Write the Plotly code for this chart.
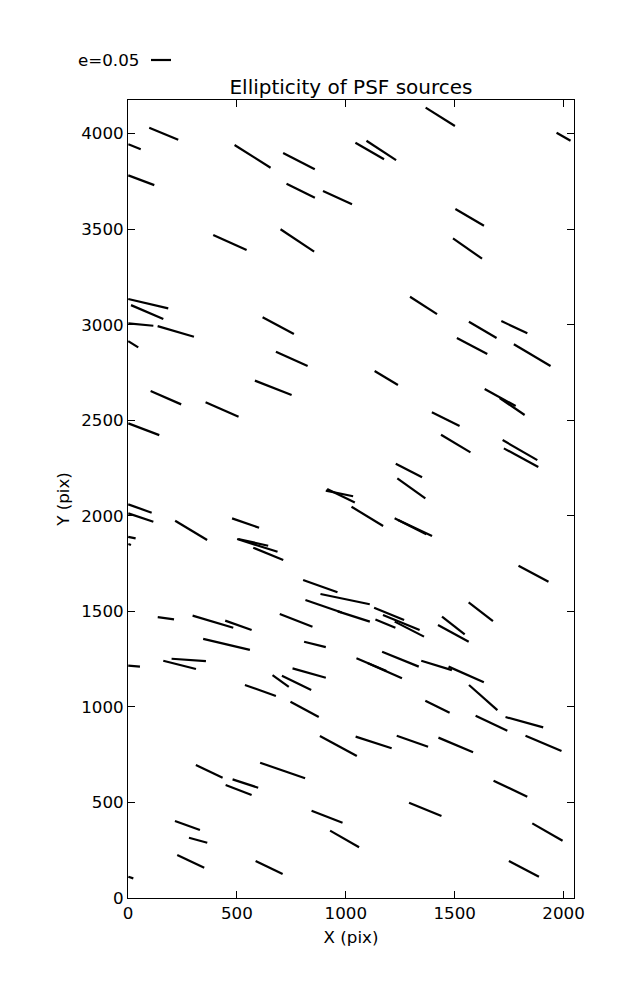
import math
import plotly.graph_objects as go

# ---- data (centre X, centre Y in pix, ellipticity e, angle in degrees) ----
x_pix = [164, 30, 572, 785, 61, 793, 962, 468, 777.5, 1434, 1110, 1163, 2000, 1569, 1559, 1357,
         93, 88, 59, 219.5, 24, 690, 752, 667, 174, 432, 72.5,
         1629, 1774, 1580, 1856, 1186, 1709, 1764, 1459, 1505, 1800, 1805, 1290, 1301,
         971, 978, 55, 59, 18, 7.6, 290, 540, 594, 575, 644, 883, 997, 898, 1037,
         174, 390, 507, 452.5, 772, 858.5, 28, 237, 279, 832, 701, 774, 608,
         1099, 1297, 1318, 1862, 1199, 1182, 1255, 1292, 1494, 1494, 1620, 1251, 1118, 1180,
         1417, 1553, 1631, 1421, 811, 966, 373, 539, 508, 710, 914, 994.5, 273, 322, 288, 648, 13,
         1669, 1820, 1128, 1306, 1505, 1908, 1756, 1365, 1926, 1818]
y_pix = [3999, 3931, 3881, 3856, 3756, 3701, 3665, 3430, 3441, 4088, 3909, 3912, 3984, 3562, 3399, 3101,
         3110, 3066, 3001, 2965, 2898, 2995, 2821, 2670, 2618, 2556, 2453,
         2973, 2987, 2889, 2841, 2721, 2619, 2572, 2506, 2378, 2344, 2304, 2237, 2144,
         2117, 2105, 2038, 1991, 1886, 1850, 1924, 1962, 1845, 1861, 1801, 1632, 1564, 1527, 1473,
         1464, 1446, 1427, 1327, 1453, 1327, 1213, 1220, 1246, 1177, 1136, 1126, 1086,
         1997, 1945, 1936, 1697, 1487, 1436, 1442, 1407, 1426, 1385, 1498, 1250, 1221, 1189,
         1217, 1170, 1049, 1001, 987, 795, 663, 599, 565, 667, 425, 309, 379, 302.5, 192, 160, 107,
         915, 920, 814, 820.5, 801, 809, 572, 464, 345, 152.5]
ellipticity = [0.0785, 0.0334, 0.1064, 0.089, 0.0694, 0.079, 0.0798, 0.0915, 0.101, 0.0863, 0.0827, 0.0884,
               0.0403, 0.0828, 0.0887, 0.0802,
               0.1027, 0.088, 0.0628, 0.0946, 0.0296, 0.0887, 0.087, 0.0985, 0.0834, 0.09, 0.0828,
               0.0803, 0.0719, 0.0859, 0.1066, 0.068, 0.0884, 0.0756, 0.0773, 0.0857, 0.1001, 0.0979,
               0.074, 0.086,
               0.0697, 0.0768, 0.0622, 0.066, 0.019, 0.007, 0.0934, 0.0715, 0.1059, 0.0768, 0.081,
               0.0913, 0.126, 0.096, 0.084,
               0.0411, 0.106, 0.07, 0.12, 0.0877, 0.0559, 0.0294, 0.0843, 0.086, 0.0865, 0.0502, 0.0815,
               0.0822,
               0.0926, 0.0888, 0.094, 0.085, 0.081, 0.0542, 0.099, 0.0823, 0.0718, 0.0874, 0.0767, 0.099,
               0.0814, 0.0929,
               0.08, 0.0965, 0.0946, 0.0678, 0.0804, 0.105, 0.074, 0.0674, 0.0696, 0.119, 0.083, 0.0835,
               0.0664, 0.0474, 0.0746, 0.075, 0.013,
               0.0877, 0.0977, 0.0946, 0.083, 0.094, 0.0978, 0.0933, 0.0876, 0.0873, 0.0847]
angle_deg = [-22.5, -22, -32.2, -27.2, -20.5, -26.3, -24.6, -24.2, -33.7, -32, -30.1, -33.1, -29.7, -30.3,
             -35.1, -32.6,
             -13.1, -23.4, -5.5, -16.4, -32.2, -28.1, -24.3, -21.3, -23.5, -23.6, -20.7,
             -30.5, -25.3, -27.8, -30.6, -31, -28.7, -34.2, -26.3, -30.9, -30, -28.5, -27.3, -35.5,
             -11.6, -25.6, -19.7, -18.6, -12.2, -20, -31.1, -19.2, -17.5, -12.6, -22.3, -19.7, -11.8,
             -19, -17.7,
             -8, -16.5, -19.4, -13.3, -21.2, -13.7, -4.9, -14.2, -3.8, -15.8, -35.7, -26, -19.5,
             -31.4, -26.8, -25.2, -28.1, -22.3, -22.8, -22.2, -27.1, -37.8, -28.5, -37.6, -22.2,
             -22.9, -23.8,
             -16.9, -23.8, -41.4, -26.3, -28.4, -28.4, -25.4, -18.2, -21, -19.1, -21.2, -29.8,
             -19.8, -15.3, -25.2, -25.7, -17.7,
             -25.3, -15.3, -17.9, -19.4, -22.9, -23, -25.4, -22.3, -29.9, -27.6]

x_ticks = [0, 500, 1000, 1500, 2000]
y_ticks = [0, 500, 1000, 1500, 2000, 2500, 3000, 3500, 4000]
key_e = 0.05

# ---- layout geometry (page has an 8px body margin) ----
W, H = 637, 1000
PAGE_OFF = 8
PLOT_L, PLOT_R, PLOT_T, PLOT_B = 128, 574, 100, 898   # target on-screen plot box
ML = PLOT_L - PAGE_OFF
MT = PLOT_T - PAGE_OFF
MR = W - (PLOT_R - PAGE_OFF)
MB = H - (PLOT_B - PAGE_OFF)
X_RANGE = [0, 2048]
Y_RANGE = [0, 4176]
KEY_PX = 20.0  # drawn length of e = key_e, in pixels
plot_w = PLOT_R - PLOT_L
plot_h = PLOT_B - PLOT_T
sx = plot_w / (X_RANGE[1] - X_RANGE[0])   # px per data unit
sy = plot_h / (Y_RANGE[1] - Y_RANGE[0])
px_per_e = KEY_PX / key_e

xs, ys = [], []
for cx, cy, e, th in zip(x_pix, y_pix, ellipticity, angle_deg):
    half = 0.5 * e * px_per_e
    t = math.radians(th)
    dx = half * math.cos(t) / sx
    dy = half * math.sin(t) / sy
    xs += [cx - dx, cx + dx, None]
    ys += [cy - dy, cy + dy, None]

fig = go.Figure()
fig.add_trace(go.Scatter(x=xs, y=ys, mode="lines",
                         line=dict(color="black", width=2.2), hoverinfo="skip",
                         showlegend=False))

FONT = "DejaVu Sans"
FS = 16.7
axis_common = dict(showline=True, linecolor="black", linewidth=1, mirror="ticks",
                   ticks="inside", ticklen=7, tickwidth=1, tickcolor="black",
                   showgrid=False, zeroline=False,
                   tickfont=dict(family=FONT, size=FS, color="black"))

fig.update_layout(
    width=W, height=H,
    margin=dict(l=ML, r=MR, t=MT, b=MB),
    paper_bgcolor="white", plot_bgcolor="white",
    font=dict(family=FONT, color="black"),
    title=dict(text="Ellipticity of PSF sources", x=0.5, xref="paper", xanchor="center",
               y=1 - (87 - PAGE_OFF) / H, yref="container", yanchor="middle",
               font=dict(family=FONT, size=20, color="black")),
    xaxis=dict(range=X_RANGE, tickvals=x_ticks, ticktext=[str(v) for v in x_ticks],
               title=dict(text="X (pix)", standoff=9, font=dict(family=FONT, size=FS)),
               **axis_common),
    yaxis=dict(range=Y_RANGE, tickvals=y_ticks, ticktext=[str(v) for v in y_ticks],
               title=dict(text="Y (pix)", standoff=7, font=dict(family=FONT, size=FS)),
               **axis_common),
)

# quiver key (legend)
key_y = 1 + (PLOT_T - 60) / plot_h
key_x0 = (151 - PLOT_L) / plot_w
fig.add_shape(type="line", xref="paper", yref="paper",
              x0=key_x0, x1=key_x0 + KEY_PX / plot_w, y0=key_y, y1=key_y,
              line=dict(color="black", width=2.2))
fig.add_annotation(text=f"e={key_e}", xref="paper", yref="paper",
                   x=key_x0 - 10 / plot_w, y=key_y, xanchor="right", yanchor="middle",
                   showarrow=False, font=dict(family=FONT, size=FS, color="black"))

fig.write_html("out.html")
